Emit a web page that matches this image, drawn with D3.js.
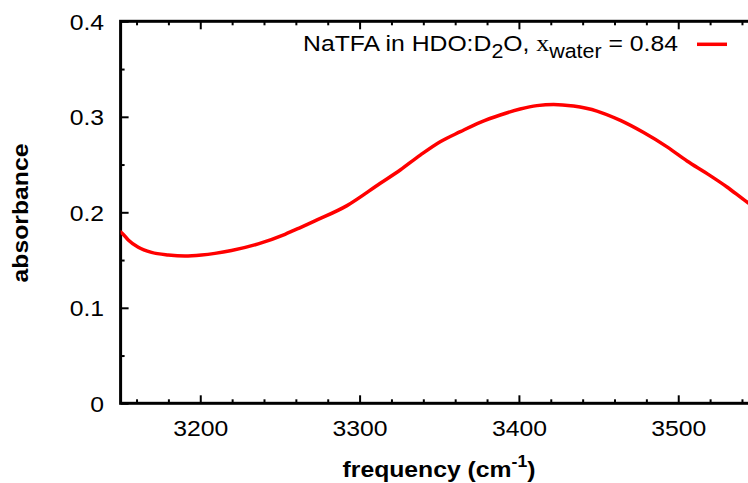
<!DOCTYPE html>
<html><head><meta charset="utf-8">
<script src="https://cdn.jsdelivr.net/npm/d3@7"></script>
<style>
html,body{margin:0;padding:0;background:#fff;}
svg{display:block;}
text{font-family:"Liberation Sans",Arial,Helvetica,sans-serif;fill:#000;}
</style></head><body>
<svg id="c" width="748" height="483"></svg>
<script>
// Data
const frequency = [3148,3151,3154.8,3161.1,3169.4,3179.9,3190.4,3200.8,3209.2,3219.6,3236.4,3253.2,3262.8,3272,3292.1,3313,3325.5,3338.1,3350.6,3363.2,3375.7,3388.3,3400.8,3411.3,3421.8,3434.3,3449,3463.7,3478.3,3493,3505.5,3518.1,3530.6,3543.2,3552];
const absorbance = [0.181,0.178,0.171,0.1633,0.158,0.1553,0.1542,0.1553,0.157,0.160,0.167,0.177,0.184,0.191,0.207,0.2304,0.2443,0.2599,0.2739,0.2844,0.2942,0.3019,0.3081,0.3117,0.3130,0.3112,0.306,0.2962,0.2835,0.2685,0.2538,0.2405,0.2265,0.2107,0.201];
const xMajorTicks = [3200,3300,3400,3500];
const xMinorTicks = d3.range(3160,3551,20).filter(v=>v%100!==0);
const yMajorTicks = [0,0.1,0.2,0.3,0.4];
const yMinorTicks = [0.05,0.15,0.25,0.35];
const yTickLabels = ["0","0.1","0.2","0.3","0.4"];
const xDomain = [3150,3550];
const yDomain = [0,0.4];

const svg = d3.select("#c");
const x = d3.scaleLinear().domain(xDomain).range([120.6,757.9]);
const y = d3.scaleLinear().domain(yDomain).range([403.3,21.3]);
const FS = 22.5;
const SX = "scale(1.1,1)";

// frame
svg.append("rect")
  .attr("x",x(xDomain[0])).attr("y",y(yDomain[1]))
  .attr("width",x(xDomain[1])-x(xDomain[0])).attr("height",y(yDomain[0])-y(yDomain[1]))
  .attr("fill","none").attr("stroke","#000").attr("stroke-width",3);

function styleTicks(g,w){ g.select(".domain").remove(); g.selectAll("line").attr("stroke","#000").attr("stroke-width",w); }

// bottom axis
svg.append("g").attr("transform",`translate(0,${y(0)})`)
  .call(d3.axisBottom(x).tickValues(xMajorTicks).tickSize(-8).tickFormat(d3.format("d")))
  .call(g=>{styleTicks(g,2);
    g.selectAll("text").attr("y",33).attr("dy",null).attr("font-size",FS)
     .attr("font-family","Liberation Sans, Arial, sans-serif").attr("transform",SX);});
svg.append("g").attr("transform",`translate(0,${y(0)})`)
  .call(d3.axisBottom(x).tickValues(xMinorTicks).tickSize(-4).tickFormat(""))
  .call(g=>styleTicks(g,2));
// top axis (mirrored ticks)
svg.append("g").attr("transform",`translate(0,${y(0.4)})`)
  .call(d3.axisTop(x).tickValues(xMajorTicks).tickSize(-8).tickFormat(""))
  .call(g=>styleTicks(g,2));
svg.append("g").attr("transform",`translate(0,${y(0.4)})`)
  .call(d3.axisTop(x).tickValues(xMinorTicks).tickSize(-4).tickFormat(""))
  .call(g=>styleTicks(g,2));
// left axis
svg.append("g").attr("transform",`translate(${x(xDomain[0])},0)`)
  .call(d3.axisLeft(y).tickValues(yMajorTicks).tickSize(-8).tickFormat((d,i)=>yTickLabels[i]))
  .call(g=>{styleTicks(g,2);
    g.selectAll("text").attr("x",-16.5/1.1).attr("y",8).attr("dy",null).attr("font-size",FS)
     .attr("font-family","Liberation Sans, Arial, sans-serif").attr("transform",SX);});
svg.append("g").attr("transform",`translate(${x(xDomain[0])},0)`)
  .call(d3.axisLeft(y).tickValues(yMinorTicks).tickSize(-4).tickFormat(""))
  .call(g=>styleTicks(g,2));
// right axis (off-canvas, mirrored)
svg.append("g").attr("transform",`translate(${x(xDomain[1])},0)`)
  .call(d3.axisRight(y).tickValues(yMajorTicks).tickSize(-8).tickFormat(""))
  .call(g=>styleTicks(g,2));

// clip
svg.append("clipPath").attr("id","clip").append("rect")
  .attr("x",x(xDomain[0])).attr("y",y(yDomain[1]))
  .attr("width",x(xDomain[1])-x(xDomain[0])).attr("height",y(yDomain[0])-y(yDomain[1]));

const pts = frequency.map((f,i)=>[f,absorbance[i]]);
svg.append("path").datum(pts).attr("clip-path","url(#clip)")
  .attr("fill","none").attr("stroke","#ff0000").attr("stroke-width",3.5)
  .attr("stroke-linejoin","round")
  .attr("d",d3.line().x(d=>x(d[0])).y(d=>y(d[1])).curve(d3.curveMonotoneX));

// legend
const leg = svg.append("g").attr("transform","translate(678,50.7) scale(1.1,1)");
const lt = leg.append("text").attr("text-anchor","end").attr("font-size",FS);
lt.append("tspan").text("NaTFA in HDO:D");
lt.append("tspan").attr("font-size",19.5).attr("dy",7).text("2");
lt.append("tspan").attr("dy",-7).text("O, ");
lt.append("tspan").attr("font-family","Liberation Serif, Times New Roman, serif").attr("font-size",23.5).text("x");
lt.append("tspan").attr("font-size",19.5).attr("dy",7).text("water");
lt.append("tspan").attr("dy",-7).text(" = 0.84");
svg.append("line").attr("x1",697).attr("x2",727).attr("y1",44.3).attr("y2",44.3)
  .attr("stroke","#ff0000").attr("stroke-width",3.5);

// axis titles
const xl = svg.append("g").attr("transform","translate(439,477) scale(1.1,1)");
const xt = xl.append("text").attr("text-anchor","middle").attr("font-size",FS).attr("font-weight","bold");
xt.append("tspan").text("frequency (cm");
xt.append("tspan").attr("font-size",16).attr("dy",-10).text("-1");
xt.append("tspan").attr("dy",10).text(")");

svg.append("g").attr("transform","translate(28,213) rotate(-90) scale(1.1,1)")
  .append("text").attr("text-anchor","middle").attr("font-size",FS).attr("font-weight","bold")
  .text("absorbance");
</script>
</body></html>
